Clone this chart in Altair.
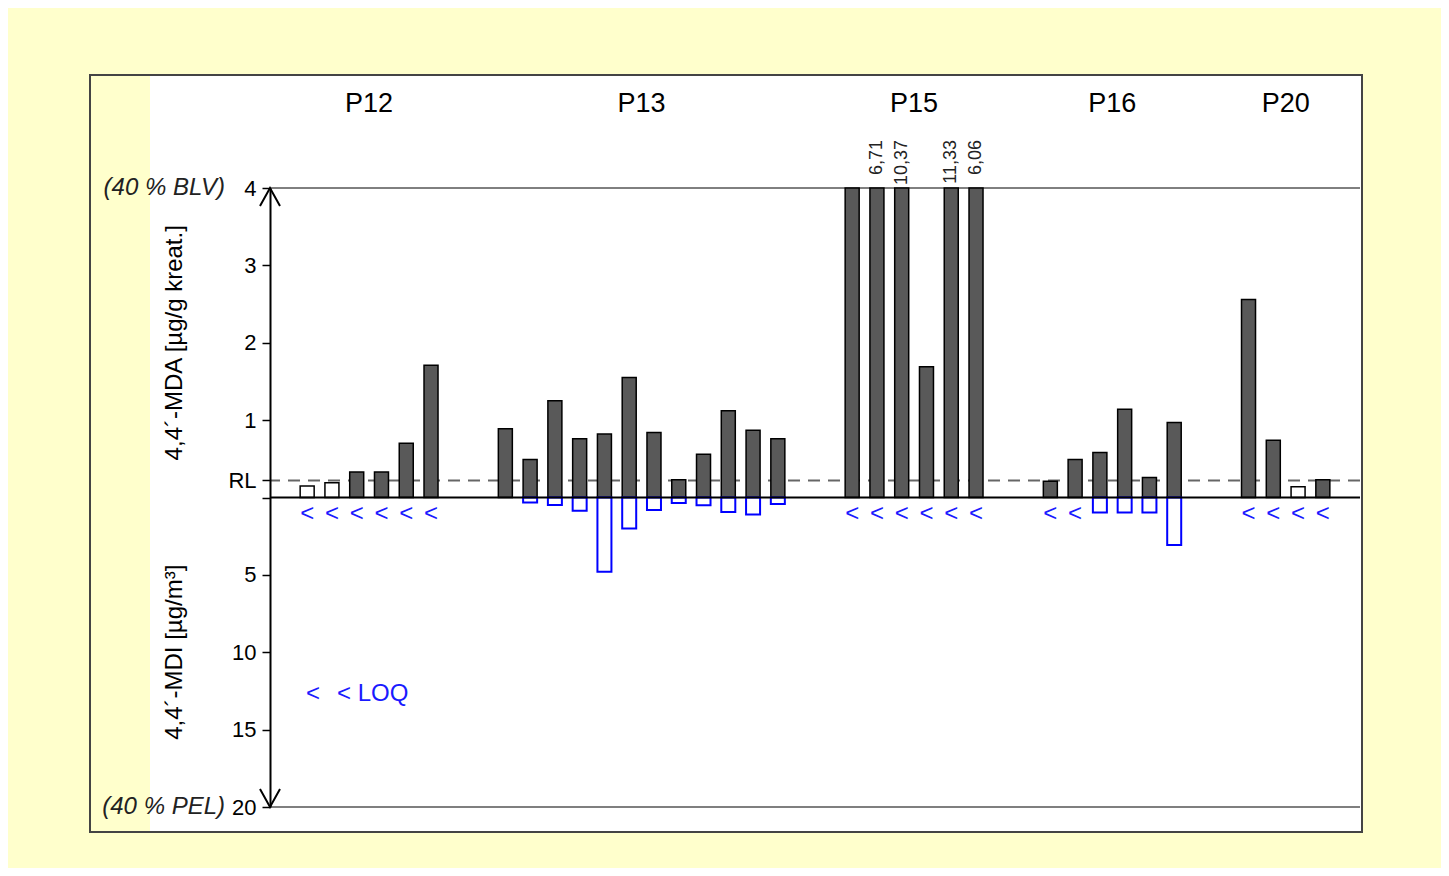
import altair as alt
import pandas as pd

# ---------------- data ----------------
GROUPS = ["P12", "P13", "P15", "P16", "P20"]

MDA_P12 = [0.15, 0.19, 0.33, 0.33, 0.70, 1.71]
MDA_P13 = [0.89, 0.49, 1.25, 0.76, 0.82, 1.55, 0.84, 0.23, 0.56, 1.12, 0.87, 0.76]
MDA_P15 = [4.00, 6.71, 10.37, 1.69, 11.33, 6.06]
MDA_P16 = [0.21, 0.49, 0.58, 1.14, 0.26, 0.97]
MDA_P20 = [2.56, 0.74, 0.14, 0.23]

MDI_P12 = [None] * 6
MDI_P13 = [None, 0.33, 0.48, 0.85, 4.8, 2.0, 0.8, 0.35, 0.5, 0.93, 1.1, 0.42]
MDI_P15 = [None] * 6
MDI_P16 = [None, None, 0.97, 0.97, 0.97, 3.07]
MDI_P20 = [None] * 4

LOQ_P12 = [True] * 6
LOQ_P13 = [False] * 12
LOQ_P15 = [True] * 6
LOQ_P16 = [True, True, False, False, False, False]
LOQ_P20 = [True] * 4

MDA = [MDA_P12, MDA_P13, MDA_P15, MDA_P16, MDA_P20]
MDI = [MDI_P12, MDI_P13, MDI_P15, MDI_P16, MDI_P20]
LOQ = [LOQ_P12, LOQ_P13, LOQ_P15, LOQ_P16, LOQ_P20]

UPPER_MAX = 4      # 40 % BLV (µg/g kreat.)
LOWER_MAX = 20     # 40 % PEL (µg/m³)
RL = 0.22
LOD = 0.2
GAP = 2
FACTOR = LOWER_MAX / UPPER_MAX

FONT = "Liberation Sans"

# ---------------- build tables ----------------
rows = []
centers = []
slot = 0
for gi, g in enumerate(GROUPS):
    start = slot
    for i, v in enumerate(MDA[gi]):
        m = MDI[gi][i]
        rows.append(dict(
            group=g, slot=slot, mda=v, top=min(v, UPPER_MAX),
            fill="#ffffff" if v < LOD else "#595959",
            mdi_disp=(-m / FACTOR) if m is not None else None,
            loq=LOQ[gi][i],
            label=(f"{v:.2f}".replace(".", ",") if v > UPPER_MAX else ""),
        ))
        slot += 1
    centers.append(dict(group=g, center=(start + slot - 1) / 2))
    slot += GAP

df = pd.DataFrame(rows)
gdf = pd.DataFrame(centers)
one = pd.DataFrame({"k": [0]})
xmax = df["slot"].max() + 1.5

W, H = 1090, 619

xs = alt.Scale(domain=[-1.5, xmax], nice=False, zero=False, padding=0)
ys = alt.Scale(domain=[-UPPER_MAX, UPPER_MAX], nice=False, zero=False, padding=0)
x_enc = alt.X("slot:Q", scale=xs, axis=None)

label_expr = (
    f"datum.value == 0 ? '' : (abs(datum.value - {RL}) < 0.001 ? 'RL' : "
    f"(datum.value < 0 ? format(-datum.value * {FACTOR}, 'd') : format(datum.value, 'd')))"
)
y_axis = alt.Axis(
    values=[4, 3, 2, 1, RL, 0, -1, -2, -3, -4], labelExpr=label_expr, title=None,
    grid=False, labelOverlap=False, labelFlush=False, labelFontSize=22,
    labelFont=FONT, labelColor="black", labelPadding=6, tickSize=8, tickWidth=1.5,
    tickColor="black", domainColor="black", domainWidth=2, zindex=3,
)

# frame
white = alt.Chart(one).mark_rect(fill="white", strokeWidth=0).encode(
    x=alt.value(-120), x2=alt.value(1091), y=alt.value(-112), y2=alt.value(643))
border = alt.Chart(one).mark_rect(fillOpacity=0, stroke="#444444", strokeWidth=2).encode(
    x=alt.value(-180), x2=alt.value(1092), y=alt.value(-113), y2=alt.value(644))

top_rule = alt.Chart(one).mark_rule(color="black", strokeWidth=1).encode(y=alt.datum(UPPER_MAX))
bot_rule = alt.Chart(one).mark_rule(color="#555555", strokeWidth=1.5).encode(y=alt.datum(-UPPER_MAX))
rl_rule = alt.Chart(one).mark_rule(color="#666666", strokeWidth=2, strokeDash=[12, 8]).encode(
    y=alt.datum(RL))

bars = alt.Chart(df).mark_bar(size=14, stroke="black", strokeWidth=1.5, orient="vertical").encode(
    x=x_enc,
    y=alt.Y("top:Q", scale=ys, axis=y_axis),
    y2=alt.datum(0),
    fill=alt.Fill("fill:N", scale=None),
)
mdi_bars = alt.Chart(df).transform_filter("isValid(datum.mdi_disp)").mark_bar(
    size=14, fill="white", stroke="#0000ff", strokeWidth=2, orient="vertical").encode(
    x=x_enc, y=alt.Y("mdi_disp:Q", scale=ys), y2=alt.datum(0))

zero_rule = alt.Chart(one).mark_rule(color="black", strokeWidth=2).encode(y=alt.datum(0))

loq_marks = alt.Chart(df).transform_filter("datum.loq").mark_text(
    text="<", color="#1a1aff", fontSize=24, font=FONT, baseline="middle").encode(
    x=x_enc, y=alt.value(326))

val_labels = alt.Chart(df).transform_filter("datum.label != ''").mark_text(
    angle=270, align="right", baseline="middle", fontSize=18, font=FONT, color="#222222").encode(
    x=x_enc, y=alt.value(-48), text="label:N")

group_titles = alt.Chart(gdf).mark_text(fontSize=27, font=FONT, color="black", baseline="middle").encode(
    x=alt.X("center:Q", scale=xs, axis=None), y=alt.value(-84), text="group:N")

blv = alt.Chart(one).mark_text(text="(40 % BLV)", align="right", baseline="middle",
                              fontStyle="italic", fontSize=24, font=FONT, color="#222222").encode(
    x=alt.value(-45), y=alt.datum(UPPER_MAX))
pel = alt.Chart(one).mark_text(text="(40 % PEL)", align="right", baseline="middle",
                              fontStyle="italic", fontSize=24, font=FONT, color="#222222").encode(
    x=alt.value(-45), y=alt.datum(-UPPER_MAX))

ytitle_up = alt.Chart(one).mark_text(text="4,4´-MDA [µg/g kreat.]", angle=270, baseline="middle",
                                    fontSize=24, font=FONT, color="black").encode(
    x=alt.value(-95), y=alt.datum(UPPER_MAX / 2))
ytitle_lo = alt.Chart(one).mark_text(text="4,4´-MDI [µg/m³]", angle=270, baseline="middle",
                                    fontSize=24, font=FONT, color="black").encode(
    x=alt.value(-95), y=alt.datum(-UPPER_MAX / 2))

leg1 = alt.Chart(one).mark_text(text="<", align="center", baseline="middle", fontSize=24,
                               font=FONT, color="#1a1aff").encode(x=alt.value(43), y=alt.value(506))
leg2 = alt.Chart(one).mark_text(text="< LOQ", align="left", baseline="middle", fontSize=24,
                               font=FONT, color="#1a1aff").encode(x=alt.value(67), y=alt.value(506))

arrow_up = alt.Chart(one).mark_point(shape="M-1,1.8L0,0L1,1.8", size=400, filled=False,
                                     stroke="black", strokeWidth=2, opacity=1).encode(
    x=alt.value(0), y=alt.datum(UPPER_MAX))
arrow_dn = alt.Chart(one).mark_point(shape="M-1,-1.8L0,0L1,-1.8", size=400, filled=False,
                                     stroke="black", strokeWidth=2, opacity=1).encode(
    x=alt.value(0), y=alt.datum(-UPPER_MAX))

chart = alt.layer(
    white, border, top_rule, bot_rule, rl_rule, bars, mdi_bars, zero_rule,
    loq_marks, val_labels, group_titles, blv, pel, ytitle_up, ytitle_lo, leg1, leg2,
    arrow_up, arrow_dn,
).properties(
    width=W, height=H, background="#FFFFCC",
    padding={"left": 262, "top": 180, "right": 81, "bottom": 61},
    autosize=alt.AutoSizeParams(type="none"),
).configure_view(strokeOpacity=0)

chart.save("out.html", embed_options={"renderer": "svg", "actions": False})
